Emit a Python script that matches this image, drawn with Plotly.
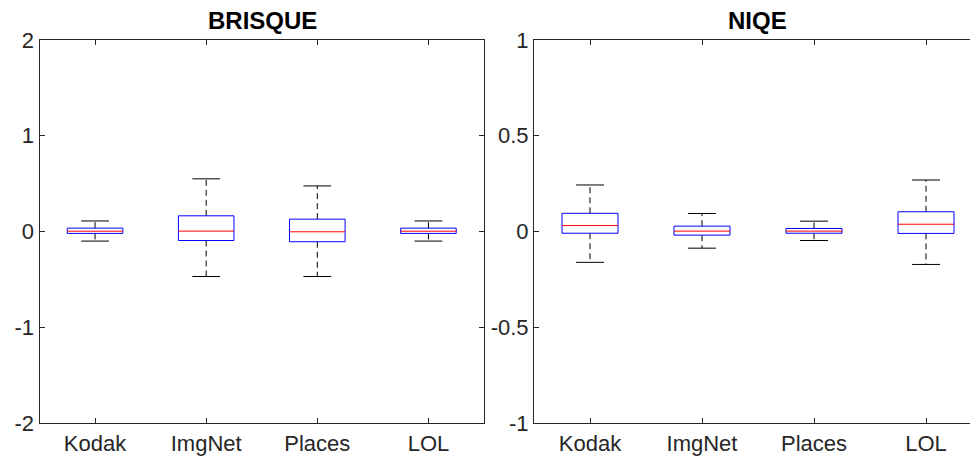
import plotly.graph_objects as go

categories = ["Kodak", "ImgNet", "Places", "LOL"]

# BRISQUE box statistics
brisque_lower = [-0.10, -0.47, -0.47, -0.10]
brisque_q1 = [-0.02, -0.094, -0.107, -0.02]
brisque_median = [0.003, 0.004, -0.003, 0.003]
brisque_q3 = [0.035, 0.164, 0.129, 0.035]
brisque_upper = [0.11, 0.55, 0.476, 0.11]

# NIQE box statistics
niqe_lower = [-0.161, -0.087, -0.047, -0.172]
niqe_q1 = [-0.009, -0.019, -0.009, -0.010]
niqe_median = [0.031, 0.002, 0.002, 0.038]
niqe_q3 = [0.095, 0.028, 0.016, 0.103]
niqe_upper = [0.243, 0.094, 0.054, 0.269]

brisque_ticks = [-2, -1, 0, 1, 2]
brisque_tick_text = ["-2", "-1", "0", "1", "2"]
niqe_ticks = [-1, -0.5, 0, 0.5, 1]
niqe_tick_text = ["-1", "-0.5", "0", "0.5", "1"]

W, H = 970, 459
TOP, BOTTOM = 40, 423.5
FONT = "Liberation Sans, Arial, sans-serif"
AXCOL = "#262626"

fig = go.Figure()


def add_boxes(lower, q1, med, q3, upper, xa, ya):
    bx, by, mx, my, wx, wy, cx, cy = [], [], [], [], [], [], [], []
    for i in range(len(categories)):
        c = i + 1
        bx += [c - 0.25, c + 0.25, c + 0.25, c - 0.25, c - 0.25, None]
        by += [q1[i], q1[i], q3[i], q3[i], q1[i], None]
        mx += [c - 0.25, c + 0.25, None]
        my += [med[i], med[i], None]
        wx += [c, c, None, c, c, None]
        wy += [q3[i], upper[i], None, q1[i], lower[i], None]
        cx += [c - 0.125, c + 0.125, None, c - 0.125, c + 0.125, None]
        cy += [upper[i], upper[i], None, lower[i], lower[i], None]
    common = dict(mode="lines", xaxis=xa, yaxis=ya, showlegend=False, hoverinfo="skip")
    fig.add_trace(go.Scatter(x=wx, y=wy, line=dict(color="black", width=1, dash="6px,4px"), **common))
    fig.add_trace(go.Scatter(x=cx, y=cy, line=dict(color="black", width=1), **common))
    fig.add_trace(go.Scatter(x=bx, y=by, line=dict(color="#0000ff", width=1), **common))
    fig.add_trace(go.Scatter(x=mx, y=my, line=dict(color="#ff0000", width=1), **common))


add_boxes(brisque_lower, brisque_q1, brisque_median, brisque_q3, brisque_upper, "x", "y")
add_boxes(niqe_lower, niqe_q1, niqe_median, niqe_q3, niqe_upper, "x2", "y2")

tickfont = dict(family=FONT, size=22, color=AXCOL)

xcommon = dict(
    tickmode="array", tickvals=[1, 2, 3, 4], ticktext=categories,
    ticks="inside", ticklen=5, tickcolor=AXCOL, showline=True, linecolor=AXCOL,
    linewidth=1, showgrid=False, zeroline=False, tickfont=tickfont,
    ticklabelstandoff=1, automargin=False,
)
ycommon = dict(
    tickmode="array",
    ticks="inside", ticklen=5, tickcolor=AXCOL, showline=True, linecolor=AXCOL,
    linewidth=1, showgrid=False, zeroline=False, tickfont=tickfont,
    automargin=False,
)

right_end = 0.5 + (970 - 534) / 112.0

fig.update_layout(
    width=W, height=H,
    margin=dict(l=0, r=0, t=TOP, b=H - BOTTOM, pad=0, autoexpand=False),
    paper_bgcolor="white", plot_bgcolor="white",
    xaxis=dict(domain=[39.5 / W, 484 / W], range=[0.5, 4.5], anchor="y", mirror="ticks", **xcommon),
    yaxis=dict(domain=[0, 1], range=[-2, 2], anchor="x", tickvals=brisque_ticks,
               ticktext=brisque_tick_text, mirror="ticks", **ycommon),
    xaxis2=dict(domain=[534 / W, 1.0], range=[0.5, right_end], anchor="y2", mirror="ticks", **xcommon),
    yaxis2=dict(domain=[0, 1], range=[-1, 1], anchor="x2",
                tickvals=niqe_ticks, ticktext=niqe_tick_text, mirror=False, **ycommon),
    annotations=[
        dict(text="<b>BRISQUE</b>", x=262.5 / W, y=20, xref="paper", yref="paper",
             showarrow=False, xanchor="center", yanchor="middle",
             font=dict(family=FONT, size=24, color="black")),
        dict(text="<b>NIQE</b>", x=757.5 / W, y=20, xref="paper", yref="paper",
             showarrow=False, xanchor="center", yanchor="middle",
             font=dict(family=FONT, size=24, color="black")),
    ],
)
plot_h = BOTTOM - TOP
for ann in fig.layout.annotations:
    ann.y = 1 + (TOP - 20) / plot_h

fig.write_html("out.html")
